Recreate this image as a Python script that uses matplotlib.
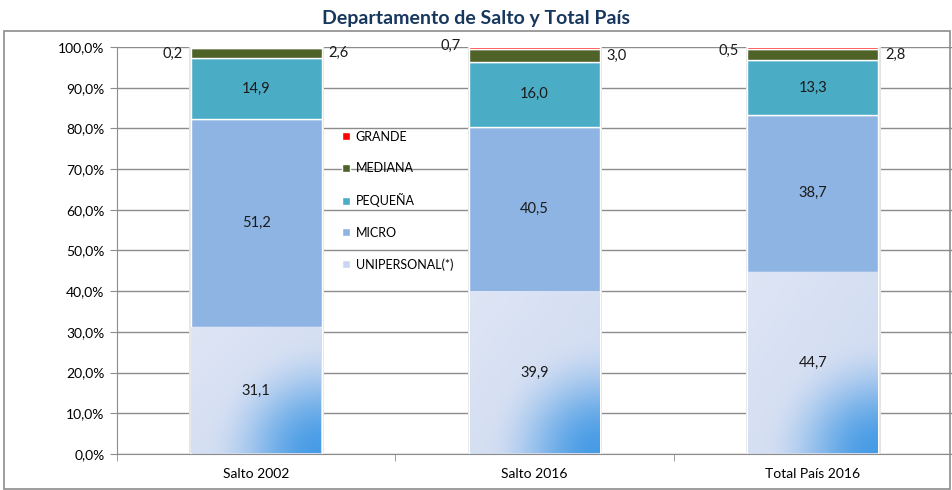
import matplotlib.pyplot as plt
from matplotlib.patches import Rectangle
import numpy as np

plt.rcParams['font.family'] = ['Lato', 'DejaVu Sans']

categories = ['Salto 2002', 'Salto 2016', 'Total País 2016']
unipersonal = [31.1, 39.9, 44.7]
micro = [51.2, 40.5, 38.7]
pequena = [14.9, 16.0, 13.3]
mediana = [2.6, 3.0, 2.8]
grande = [0.2, 0.7, 0.5]

series_names = ['UNIPERSONAL(*)', 'MICRO', 'PEQUEÑA', 'MEDIANA', 'GRANDE']
series_colors = ['#c9d6ef', '#8eb4e3', '#4bacc6', '#4f6228', '#ff0000']

def fmt(v):
    return f'{v:.1f}'.replace('.', ',')

fig = plt.figure(figsize=(9.52, 4.9), dpi=100)
ax = fig.add_axes([0.123, 0.0735, 0.877, 0.8306])

# chart frame
fig.patches.append(Rectangle((4 / 952, 1 / 490), 946 / 952, 458 / 490, transform=fig.transFigure,
                             fill=False, edgecolor='#8c8c8c', lw=1.2))
fig.text(0.5, 0.963, 'Departamento de Salto y Total País', ha='center', va='center',
         fontsize=14, fontweight='bold', color='#17375e')

x = np.arange(len(categories))
w = 0.47
series = [unipersonal, micro, pequena, mediana, grande]

# soft shadow around bars
totals = np.sum(series, axis=0)
ax.bar(x + 0.002, totals, w + 0.014, color='#e4e4e4', zorder=1.5)

bottom = np.zeros(len(x))
bars = []
for vals, name, col in zip(series, series_names, series_colors):
    b = ax.bar(x, vals, w, bottom=bottom, color=col, edgecolor='white', lw=1,
               label=name, zorder=2, clip_on=False)
    bars.append(b)
    bottom += np.array(vals)

# gradient fill for unipersonal segment (blue glow in the lower right corner)
light = np.array([0.87, 0.90, 0.96])
light2 = np.array([0.79, 0.84, 0.94])
blue = np.array([0.28, 0.61, 0.90])
for i, v in enumerate(unipersonal):
    x0, x1 = x[i] - w / 2, x[i] + w / 2
    nx, ny = 120, 240
    X, Y = np.meshgrid(np.linspace(x0, x1, nx), np.linspace(0, v, ny))
    dx = (x1 - X) * 278
    dy = Y * 4.07
    r = np.sqrt(dx ** 2 + dy ** 2)
    t = 0.5 * (1 + np.cos(np.pi * np.clip(r / 118, 0, 1)))
    s = ((X - x0) / w * 0.4 + (1 - Y / v) * 0.4)[..., None]
    base = light * (1 - s) + light2 * s
    img = base * (1 - t[..., None]) + blue * t[..., None]
    ax.imshow(img, extent=(x0 + 0.002, x1 - 0.002, 0.15, v - 0.15), origin='lower',
              aspect='auto', zorder=2.1, interpolation='bilinear')

# data labels
left_shift = [-1.7, 0.6, -0.7]
for i in range(len(x)):
    cum = 0
    for vals in series[:3]:
        ax.text(x[i], cum + vals[i] / 2, fmt(vals[i]), ha='center', va='center',
                fontsize=10.5, color='#1a1a1a', zorder=5)
        cum += vals[i]
    ax.text(x[i] + w / 2 + 0.025, cum + mediana[i] / 2, fmt(mediana[i]), ha='left', va='center',
            fontsize=10.5, color='#1a1a1a')
    ax.text(x[i] - w / 2 - 0.03, cum + mediana[i] + grande[i] / 2 + left_shift[i], fmt(grande[i]),
            ha='right', va='center', fontsize=10.5, color='#1a1a1a')

ax.set_xlim(-0.5, 2.5)
ax.set_ylim(0, 100)
ax.set_yticks(np.arange(0, 101, 10))
ax.set_yticklabels([fmt(v) + '%' for v in np.arange(0, 101, 10)], fontsize=10)
ax.set_xticks(x)
ax.set_xticklabels(categories, fontsize=10)
ax.set_xticks([-0.5, 0.5, 1.5, 2.5], minor=True)
ax.tick_params(axis='x', which='major', length=0, pad=10)
ax.tick_params(axis='x', which='minor', length=5, color='#8c8c8c')
ax.tick_params(axis='y', length=5, color='#8c8c8c', pad=4)
ax.grid(axis='y', color='#8c8c8c', lw=1, zorder=0)
ax.set_axisbelow(True)
for sp in ['top', 'right']:
    ax.spines[sp].set_visible(False)
for sp in ['left', 'bottom']:
    ax.spines[sp].set_color('#8c8c8c')

h = [b.patches[0] for b in bars]
leg = ax.legend(h[::-1], series_names[::-1], loc='upper left', bbox_to_anchor=(0.262, 0.81),
                frameon=False, fontsize=9, handlelength=0.6, handleheight=0.6,
                handletextpad=0.5, labelspacing=1.55, borderpad=0)

plt.savefig('out.png', dpi=100)
